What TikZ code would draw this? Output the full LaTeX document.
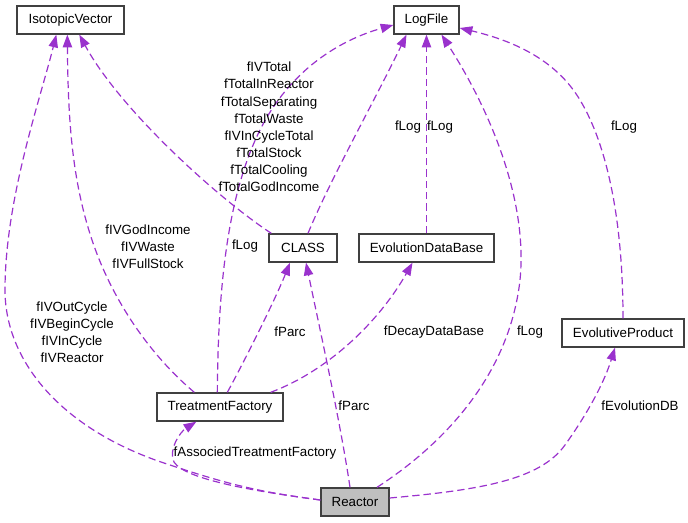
\documentclass[tikz,border=0pt]{standalone}
\usepackage{fontspec}
\setmainfont{Liberation Sans}
\usetikzlibrary{arrows.meta,calc}
\definecolor{edgec}{HTML}{9A32CD}
\definecolor{boxc}{HTML}{404040}
\begin{document}
\begin{tikzpicture}[x=0.75pt,y=-0.75pt,
  box/.style={draw=boxc,line width=1pt,fill=white,minimum height=21pt,inner sep=0pt,font=\fontsize{10}{11}\selectfont},
  rel/.style={draw=edgec,line width=0.9pt,dash pattern=on 5.5pt off 3pt,-{Triangle[length=9.5pt,width=7pt,fill=edgec]}},
  lbl/.style={font=\fontsize{10}{12.86}\selectfont,align=center,inner sep=0pt}]
\useasboundingbox (0,0) rectangle (688,523);
% nodes
\node[box,minimum width=80.25pt] (iv) at (70.5,20) {IsotopicVector};
\node[box,minimum width=48.75pt] (log) at (426.5,20) {LogFile};
\node[box,minimum width=51pt] (class) at (303,248) {CLASS};
\node[box,minimum width=101.25pt] (edb) at (426.5,248) {EvolutionDataBase};
\node[box,minimum width=91.5pt] (ep) at (623,333) {EvolutiveProduct};
\node[box,minimum width=94.5pt] (tf) at (220,407) {TreatmentFactory};
\node[box,minimum width=51pt,fill={rgb,255:red,191;green,191;blue,191}] (re) at (355,502) {Reactor};
% coordinates
\coordinate (reW) at ($(re.west)+(0,-2)$);
% edges
\draw[rel] (reW) .. controls (260,492) and (230,485) .. (170,465)
   .. controls (60,430) and (5,360) .. (5,290)
   .. controls (5,200) and (40,100) .. ($(iv.south west)+(40,0)$);
\draw[rel] ($(tf.north west)+(38,0)$) .. controls (150,355) and (112,300) .. (92,240)
   .. controls (72,180) and (68,120) .. ($(iv.south west)+(51,0)$);
\draw[rel] ($(class.north west)+(3,0)$) .. controls (220,200) and (120,110) .. ($(iv.south west)+(63,0)$);
\draw[rel] ($(tf.north west)+(61,0)$) .. controls (218,300) and (225,200) .. (260,130)
   .. controls (290,70) and (340,40) .. ($(log.west)+(0,5)$);
\draw[rel] ($(class.north)+(5,0)$) .. controls (330,180) and (375,100) .. ($(log.south)+(-20,0)$);
\draw[rel] (edb.north) -- (log.south);
\draw[rel] ($(re.north)+(22,0)$) .. controls (450,440) and (510,370) .. (520,280)
   .. controls (528,200) and (490,110) .. ($(log.south)+(15,0)$);
\draw[rel] (ep.north) .. controls (623,230) and (610,150) .. (580,100)
   .. controls (555,58) and (510,40) .. ($(log.east)+(0,8)$);
\draw[rel] ($(tf.north west)+(71,0)$) .. controls (245,360) and (275,300) .. ($(class.south)+(-13,0)$);
\draw[rel] ($(re.north)+(-5,0)$) .. controls (340,420) and (320,330) .. ($(class.south)+(3,0)$);
\draw[rel] ($(tf.north east)+(-13,0)$) .. controls (330,370) and (380,320) .. ($(edb.south)+(-14,0)$);
\draw[rel] (reW) .. controls (260,492) and (185,480) .. (174,462)
   .. controls (168,450) and (180,432) .. ($(tf.south west)+(40,0)$);
\draw[rel] ($(re.east)+(0,-4)$) .. controls (480,490) and (540,480) .. (565,445)
   .. controls (590,410) and (605,380) .. ($(ep.south)+(-8,0)$);
% labels
\node[lbl] (l1) at (72,332.5) {fIVOutCycle\\fIVBeginCycle\\fIVInCycle\\fIVReactor};
\node[lbl] (l2) at (148,246.5) {fIVGodIncome\\fIVWaste\\fIVFullStock};
\node[lbl] (l3) at (269,127) {fIVTotal\\fTotalInReactor\\fTotalSeparating\\fTotalWaste\\fIVInCycleTotal\\fTotalStock\\fTotalCooling\\fTotalGodIncome};
\node[lbl] (l4) at (245,246) {fLog};
\node[lbl] (l5) at (408,127) {fLog};
\node[lbl] (l6) at (440,127) {fLog};
\node[lbl] (l7) at (530,332) {fLog};
\node[lbl] (l8) at (624,127) {fLog};
\node[lbl] (l9) at (290,332) {fParc};
\node[lbl] (l10) at (354,406) {fParc};
\node[lbl] (l11) at (434,332) {fDecayDataBase};
\node[lbl] (l12) at (255,453) {fAssociedTreatmentFactory};
\node[lbl] (l13) at (640,406) {fEvolutionDB};
\end{tikzpicture}
\end{document}
